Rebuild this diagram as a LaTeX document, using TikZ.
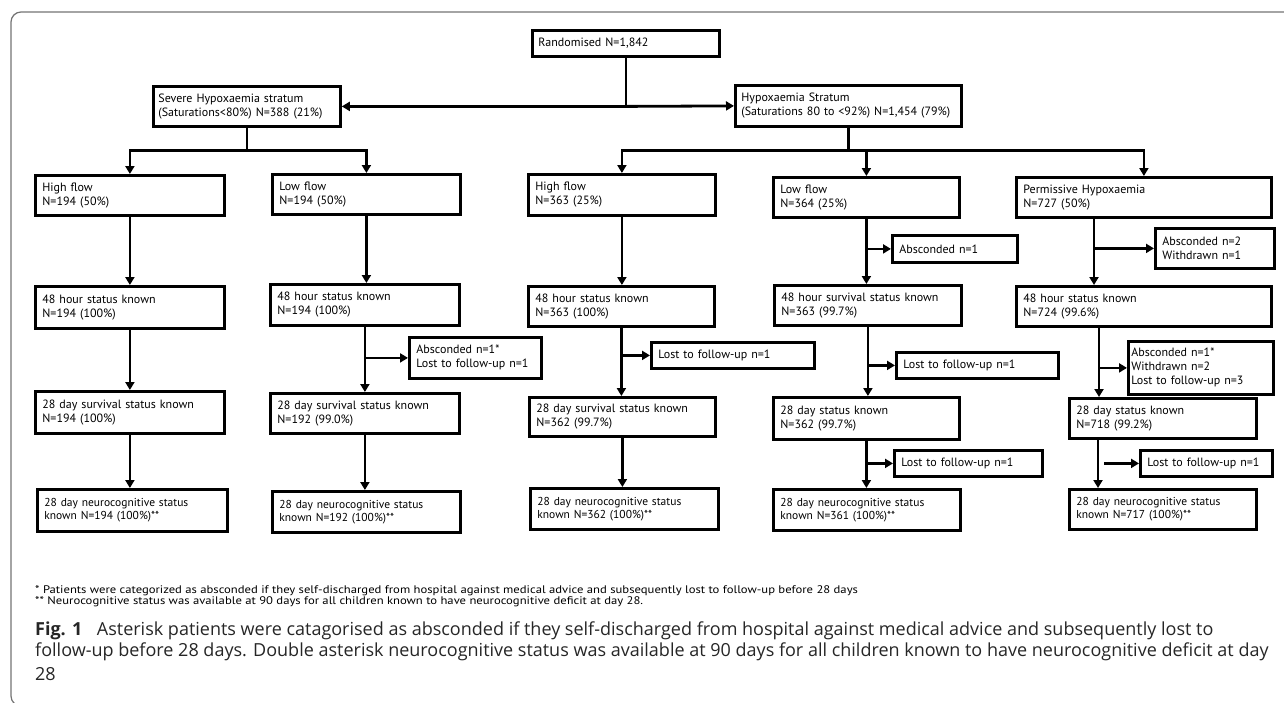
\documentclass[tikz,border=0pt]{standalone}
\usepackage{fontspec}
\setmainfont{PT Sans}
\newfontfamily\boxfont{PT Sans}
\newfontfamily\footfont[FakeStretch=1.15]{PT Sans}
\newfontfamily\capfont{Open Sans}
\usetikzlibrary{arrows.meta}
\newcommand{\mybox}[7][7]{%
  \pgfmathsetmacro{\myBW}{#5-#3}%
  \pgfmathsetmacro{\myBH}{#6-#4}%
  \pgfmathsetmacro{\myTW}{#5-#3-2*#1}%
  \node[box, inner xsep=#1pt, minimum width=\myBW pt, minimum height=\myBH pt,
        text width=\myTW pt, anchor=north west] (#2) at (#3,#4) {#7};}
\begin{document}
\begin{tikzpicture}[x=1pt,y=-1pt,
  box/.style={draw, line width=2.8pt, font=\boxfont\fontsize{12}{14}\selectfont,
              align=left, inner ysep=0pt},
  ln/.style={line width=2.8pt},
  arr/.style={line width=2.8pt, -{Triangle[length=8pt,width=9pt]}},
  framecol/.style={draw=black!55, line width=1.2pt, rounded corners=10pt},
  foot/.style={anchor=west, inner sep=0pt, font=\footfont\fontsize{11}{11}\selectfont},
  captext/.style={anchor=west, inner sep=0pt, text=black!85,
              font=\capfont\fontsize{18}{21}\selectfont}]
\useasboundingbox (0,0) rectangle (1284,702);
\draw[framecol] (11,12) rectangle (1310,706);

% top
\mybox[6]{R}{531}{29}{718}{55}{Randomised N=1,842}
\mybox[5]{S}{152}{85}{339}{125}{Severe Hypoxaemia stratum\\(Saturations<80\%) N=388 (21\%)}
\mybox[6]{H}{734}{84}{960}{125}{Hypoxaemia Stratum\\(Saturations 80 to <92\%) N=1,454 (79\%)}

% row 2
\mybox{c1a}{34}{174}{223}{214}{High flow\\N=194 (50\%)}
\mybox{c2a}{271}{173}{459}{213}{Low flow\\N=194 (50\%)}
\mybox{c3a}{527}{173}{714}{214}{High flow\\N=363 (25\%)}
\mybox{c4a}{772}{176}{958}{216}{Low flow\\N=364 (25\%)}
\mybox{c5a}{1015}{176}{1270}{216}{Permissive Hypoxaemia\\N=727 (50\%)}

\mybox{c4s1}{891}{234}{1016}{261}{Absconded n=1}
\mybox{c5s1}{1154}{227}{1273}{267}{Absconded n=2\\Withdrawn n=1}

% row 3
\mybox{c1b}{34}{285}{223}{327}{48 hour status known\\N=194 (100\%)}
\mybox{c2b}{269}{283}{458}{324}{48 hour status known\\N=194 (100\%)}
\mybox{c3b}{527}{285}{713}{325}{48 hour status known\\N=363 (100\%)}
\mybox{c4b}{773}{284}{960}{324}{48 hour survival status known\\N=363 (99.7\%)}
\mybox{c5b}{1015}{285}{1270}{325}{48 hour status known\\N=724 (99.6\%)}

\mybox{c2s}{408}{336}{540}{377}{Absconded n=1*\\Lost to follow-up n=1}
\mybox{c3s}{650}{341}{813}{367}{Lost to follow-up n=1}
\mybox{c4s2}{895}{351}{1057}{377}{Lost to follow-up n=1}
\mybox[3]{c5s2}{1127}{340}{1272}{393}{Absconded n=1*\\Withdrawn n=2\\Lost to follow-up n=3}

% row 4
\mybox{c1c}{34}{390}{223}{432}{28 day survival status known\\N=194 (100\%)}
\mybox{c2c}{269}{392}{458}{432}{28 day survival status known\\N=192 (99.0\%)}
\mybox{c3c}{528}{396}{714}{435}{28 day survival status known\\N=362 (99.7\%)}
\mybox{c4c}{772}{396}{958}{438}{28 day status known\\N=362 (99.7\%)}
\mybox{c5c}{1068}{397}{1255}{437}{28 day status known\\N=718 (99.2\%)}

\mybox{c4s3}{893}{449}{1041}{475}{Lost to follow-up n=1}
\mybox{c5s3}{1139}{449}{1271}{475}{Lost to follow-up n=1}

% row 5
\tikzset{box/.append style={font=\boxfont\fontsize{11.5}{13}\selectfont}}
\mybox{c1d}{36}{488}{226}{530}{28 day neurocognitive status\\known N=194 (100\%)**}
\mybox{c2d}{271}{490}{459}{531}{28 day neurocognitive status\\known N=192 (100\%)**}
\mybox{c3d}{529}{487}{717}{528}{28 day neurocognitive status\\known N=362 (100\%)**}
\mybox{c4d}{772}{488}{959}{529}{28 day neurocognitive status\\known N=361 (100\%)**}
\mybox{c5d}{1068}{488}{1255}{528}{28 day neurocognitive status\\known N=717 (100\%)**}

% connectors: top
\coordinate (rj) at (R.south |- S.east);
\draw[ln] (R.south) -- (rj);
\draw[arr] (rj) -- (S.east);
\draw[arr] (rj) -- (H.west);

\path (S.south) ++(0,23) coordinate (sj);
\draw[ln] (S.south) -- (sj);
\draw[arr] (sj) -| (c1a.north);
\draw[arr] (sj) -| (c2a.north);

\path (H.south) ++(0,23) coordinate (hj);
\draw[ln] (H.south) -- (hj);
\draw[arr] (hj) -| (c3a.north);
\draw[arr] (hj) -| (c4a.north);
\draw[arr] (hj) -| (c5a.north);

% column 1
\draw[arr] (c1a.south) -- (c1a.south |- c1b.north);
\draw[arr] (c1b.south) -- (c1b.south |- c1c.north);
\draw[arr] (c1c.south) -- (c1c.south |- c1d.north);

% column 2
\draw[arr] (c2a.south) -- (c2a.south |- c2b.north);
\draw[arr] (c2b.south) -- (c2b.south |- c2c.north);
\draw[arr] (c2b.south |- c2s.west) -- (c2s.west);
\draw[arr] (c2c.south) -- (c2c.south |- c2d.north);

% column 3
\draw[arr] (c3a.south) -- (c3a.south |- c3b.north);
\draw[arr] (c3b.south) -- (c3b.south |- c3c.north);
\draw[arr] (c3b.south |- c3s.west) -- (c3s.west);
\draw[arr] (c3c.south) -- (c3c.south |- c3d.north);

% column 4
\draw[arr] (c4a.south) -- (c4a.south |- c4b.north);
\draw[arr] (c4a.south |- c4s1.west) -- (c4s1.west);
\draw[arr] (c4b.south) -- (c4b.south |- c4c.north);
\draw[arr] (c4b.south |- c4s2.west) -- (c4s2.west);
\draw[arr] (c4c.south) -- (c4c.south |- c4d.north);
\draw[arr] (c4c.south |- c4s3.west) -- (c4s3.west);

% column 5
\path (c5a.south west) ++(79,0) coordinate (p5a);
\draw[arr] (p5a) -- (p5a |- c5b.north);
\draw[arr] (p5a |- c5s1.west) -- (c5s1.west);
\path (c5b.south west) ++(84,0) coordinate (p5b);
\draw[arr] (p5b) -- (p5b |- c5c.north);
\draw[arr] (p5b |- c5s2.west) -- (c5s2.west);
\path (c5c.south west) ++(30,0) coordinate (p5c);
\draw[arr] (p5c) -- (p5c |- c5d.north);
\path (p5c |- c5s3.west) ++(6,0) coordinate (q5c);
\draw[arr] (q5c) -- (c5s3.west);

% footnotes
\node[foot] (f1) at (35,591) {* Patients were categorized as absconded if they self-discharged from hospital against medical advice and subsequently lost to follow-up before 28 days};
\node[foot] (f2) at (35,602) {** Neurocognitive status was available at 90 days for all children known to have neurocognitive deficit at day 28.};

% caption
\node[captext] (cp1) at (35,631) {\textbf{Fig. 1}\hspace{0.55em} Asterisk patients were catagorised as absconded if they self-discharged from hospital against medical advice and subsequently lost to};
\node[captext] (cp2) at (35,652) {follow-up before 28 days. Double asterisk neurocognitive status was available at 90 days for all children known to have neurocognitive deficit at day};
\node[captext] (cp3) at (35,674) {28};
\end{tikzpicture}
\end{document}
